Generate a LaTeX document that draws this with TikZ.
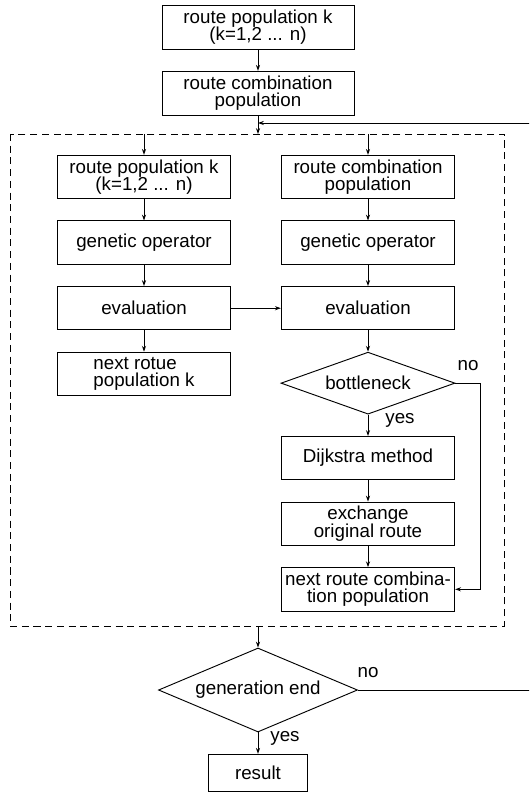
\documentclass[tikz,border=0pt]{standalone}
\usepackage{fontspec}
\setmainfont{Liberation Sans}
\usetikzlibrary{shapes,arrows,positioning,calc,arrows.meta}

\begin{document}
\begin{tikzpicture}[x=0.03cm, y=0.03cm, node distance=0.64cm,
        block/.style={draw, rectangle, minimum height=1.3cm, minimum width=5.2cm, align=center, inner sep=1pt},
        wide/.style={block, minimum width=5.76cm, minimum height=1.32cm},
        decision/.style={draw, diamond, inner sep=0pt, shape aspect=2.8, minimum width=5.22cm, minimum height=1.86cm},
        every node/.style={font=\fontsize{16}{15}\selectfont},
        line width=0.8pt,
        >={Stealth[length=5pt,width=3.5pt]}
    ]
        \clip (0,0) rectangle (529,-796);

        \node [wide] (pop) at (258,-27) {route population k\\(k=1,2 ... n)};
        \node [wide, below=of pop] (comb) {route combination\\population};

        % dashed loop frame
        \coordinate (ftl) at (10,-134);
        \coordinate (fbr) at (504,-626);
        \draw [dash pattern=on 6pt off 4pt, line width=0.7pt] (ftl) rectangle (fbr);

        \node [block] (lpop) at (144,-177) {route population k\\(k=1,2 ... n)};
        \node [block, below=of lpop] (lgen) {genetic operator};
        \node [block, below=of lgen] (leval) {evaluation};
        \node [block, below=of leval, align=left] (lnext) {next rotue\\population k};

        \node [block] (rcomb) at (368,-177) {route combination\\population};
        \node [block, below=of rcomb] (rgen) {genetic operator};
        \node [block, below=of rgen] (reval) {evaluation};
        \node [decision, below=of reval] (bott) {bottleneck};
        \node [block, below=of bott] (dij) {Dijkstra method};
        \node [block, below=of dij] (exch) {exchange\\original route};
        \node [block, below=of exch] (rnext) {next route combina-\\tion population};

        \node [decision, shape aspect=2.37, minimum width=5.97cm, minimum height=2.52cm] (gend) at (258,-690) {generation end};
        \node [block, below=of gend, minimum width=2.97cm, minimum height=1.11cm] (res) {result};

        \node (bno) at (468,-366) {no};
        \node (byes) at (400,-420) {yes};
        \node (gno) at (368,-673) {no};
        \node (gyes) at (285,-738) {yes};

        \coordinate (back) at (comb.south |- 0,-123);

        \draw [->] (pop) -- (comb);
        \draw [->] (comb) -- (comb.south |- ftl);
        \draw [->] (lpop.north |- ftl) -- (lpop);
        \draw [->] (rcomb.north |- ftl) -- (rcomb);
        \draw [->] (lpop) -- (lgen);
        \draw [->] (lgen) -- (leval);
        \draw [->] (leval) -- (lnext);
        \draw [->] (rcomb) -- (rgen);
        \draw [->] (rgen) -- (reval);
        \draw [->] (leval) -- (reval);
        \draw [->] (reval) -- (bott);
        \draw [->] (bott) -- (dij);
        \draw [->] (dij) -- (exch);
        \draw [->] (exch) -- (rnext);
        \draw [->] (bott.east) -- ++(0.75cm,0) |- (rnext.east);
        \draw [->] (gend.north |- fbr) -- (gend);
        \draw [->] (gend) -- (res);
        \draw [->] (gend.east) -- (560,-690) |- (back);
    \end{tikzpicture}
\end{document}
